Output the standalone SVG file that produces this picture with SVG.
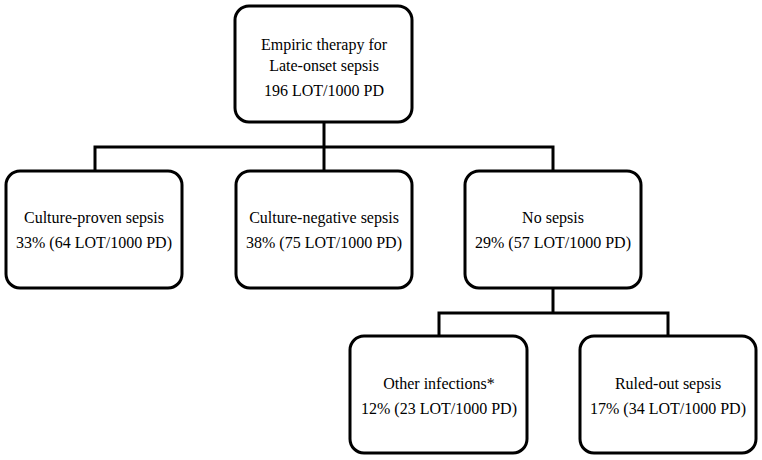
<svg xmlns="http://www.w3.org/2000/svg" width="762" height="460" viewBox="0 0 762 460">
<style>
.box{fill:#fff;stroke:#000;stroke-width:3}
.ln{fill:none;stroke:#000;stroke-width:3}
.t{font-family:'Liberation Serif','Times New Roman',Times,serif;font-size:16px;fill:#000;text-anchor:middle}
</style>
<rect width="762" height="460" fill="#fff"/>
<g id="connectors">
<path class="ln" d="M324,122 V171"/>
<path class="ln" d="M95,171 V147 H553 V171"/>
<path class="ln" d="M553,288 V313"/>
<path class="ln" d="M439,336 V313 H668 V336"/>
</g>
<g id="root"><rect class="box" x="235" y="6" width="177" height="116" rx="14"/>
<text class="t" x="324" y="50">Empiric therapy for</text><text class="t" x="324" y="71">Late-onset sepsis</text><text class="t" x="324" y="96">196 LOT/1000 PD</text></g>
<g id="culture-proven"><rect class="box" x="6" y="171" width="176" height="117" rx="14"/>
<text class="t" x="94" y="223">Culture-proven sepsis</text><text class="t" x="94" y="248">33% (64 LOT/1000 PD)</text></g>
<g id="culture-negative"><rect class="box" x="236" y="171" width="176" height="117" rx="14"/>
<text class="t" x="324" y="223">Culture-negative sepsis</text><text class="t" x="324" y="248">38% (75 LOT/1000 PD)</text></g>
<g id="no-sepsis"><rect class="box" x="465" y="171" width="176" height="117" rx="14"/>
<text class="t" x="553" y="223">No sepsis</text><text class="t" x="553" y="248">29% (57 LOT/1000 PD)</text></g>
<g id="other-infections"><rect class="box" x="350" y="336" width="177" height="117" rx="14"/>
<text class="t" x="439" y="389">Other infections*</text><text class="t" x="439" y="414">12% (23 LOT/1000 PD)</text></g>
<g id="ruled-out"><rect class="box" x="580" y="336" width="176" height="117" rx="14"/>
<text class="t" x="668" y="389">Ruled-out sepsis</text><text class="t" x="668" y="414">17% (34 LOT/1000 PD)</text></g>
</svg>
